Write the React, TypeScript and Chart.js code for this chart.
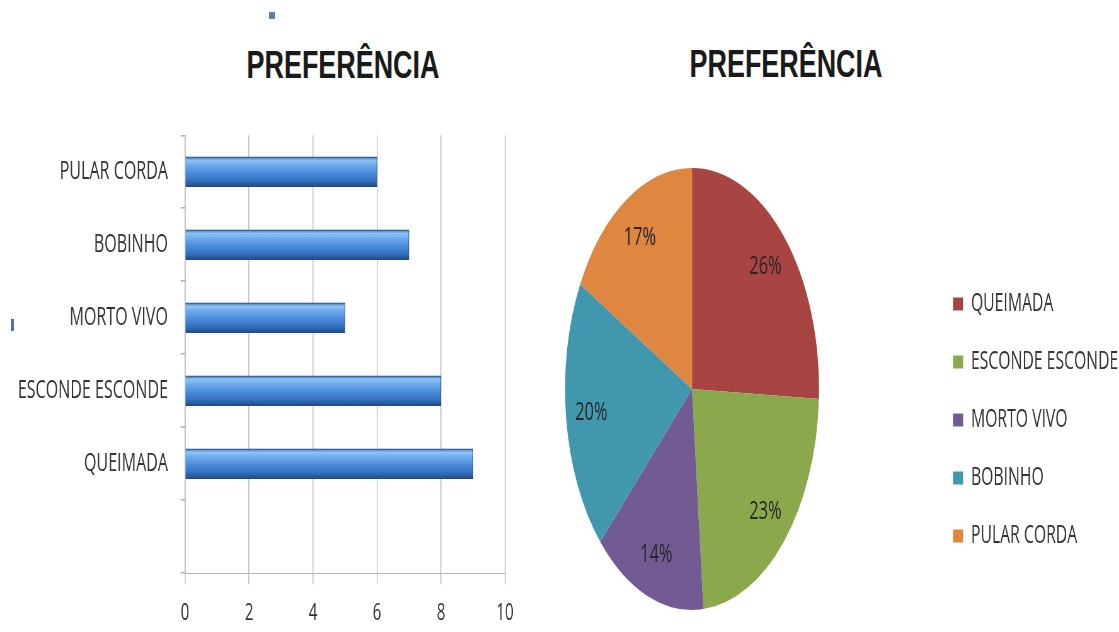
import React, { useEffect, useRef } from 'react';
import { Chart, registerables } from 'chart.js';

Chart.register(...registerables);

// ---- data ----
const categories = ['QUEIMADA', 'ESCONDE ESCONDE', 'MORTO VIVO', 'BOBINHO', 'PULAR CORDA'];
const votes = [9, 8, 5, 7, 6];
const sliceColors = ['#A84442', '#8AA84C', '#725A92', '#4198AE', '#DF8640'];
const xTickValues = [0, 2, 4, 6, 8, 10];
const chartTitle = 'PREFERÊNCIA';

// ---- layout constants ----
const S = 0.63; // horizontal condensation of the picture
const FONT = "'Open Sans', 'Liberation Sans', Arial, sans-serif";
const TITLE_FONT = "'Liberation Sans', Arial, sans-serif";
const CANVAS_TOP = 100;
const CANVAS_H = 532;
const BAR_H = 548;

const BAR_W = 841;
const BAR_AXIS_LEFT = 185 / S;
const BAR_AXIS_RIGHT = 505 / S;

const PIE_LEFT = 450;
const PIE_W = 1200;
const PIE_R = 127 / S;
const PIE_SY = 221 / PIE_R;
const LEGEND_PAD = 33;
const LEGEND_BOX_LEFT = 953;

function barGradient(c: any) {
  const chart = c.chart;
  const yScale = chart.scales && chart.scales.y;
  if (c.type !== 'data' || !yScale) return '#4a86d4';
  const yc = yScale.getPixelForValue(c.dataIndex);
  if (!isFinite(yc)) return '#4a86d4';
  const g = chart.ctx.createLinearGradient(0, yc - 15, 0, yc + 15);
  g.addColorStop(0, '#3a6db0');
  g.addColorStop(0.12, '#8ec3f6');
  g.addColorStop(0.3, '#6aa6ea');
  g.addColorStop(0.55, '#4b8bdb');
  g.addColorStop(0.8, '#3470c0');
  g.addColorStop(1, '#1f4a85');
  return g;
}

const ellipsePlugin = {
  id: 'ellipsePie',
  beforeDatasetsDraw(chart: any) {
    const arc = chart.getDatasetMeta(0).data[0];
    const ctx = chart.ctx;
    ctx.save();
    if (arc) {
      ctx.translate(arc.x, arc.y);
      ctx.scale(1, PIE_SY);
      ctx.translate(-arc.x, -arc.y);
    }
  },
  afterDatasetsDraw(chart: any) {
    const ctx = chart.ctx;
    ctx.restore();
    const meta = chart.getDatasetMeta(0);
    const data: number[] = chart.data.datasets[0].data;
    const total = data.reduce((a, b) => a + b, 0);
    ctx.save();
    ctx.font = `26px ${FONT}`;
    ctx.fillStyle = '#262626';
    ctx.textAlign = 'center';
    ctx.textBaseline = 'middle';
    meta.data.forEach((arc: any, i: number) => {
      const p = arc.getProps(['x', 'y', 'startAngle', 'endAngle', 'outerRadius'], true);
      const mid = (p.startAngle + p.endAngle) / 2;
      const lx = p.x + Math.cos(mid) * p.outerRadius * 0.8;
      const ly = p.y + Math.sin(mid) * p.outerRadius * 0.8 * PIE_SY;
      ctx.fillText(Math.round((data[i] / total) * 100) + '%', lx, ly);
    });
    ctx.restore();
  },
};

function titleStyle(center: number, top: number): React.CSSProperties {
  return {
    position: 'absolute',
    left: center - 300,
    width: 600,
    top,
    textAlign: 'center',
    font: `bold 39px ${TITLE_FONT}`,
    lineHeight: '39px',
    color: '#1a1a1a',
    transform: 'scaleX(0.69)',
    transformOrigin: '50% 50%',
    whiteSpace: 'nowrap',
  };
}

export default function App() {
  const barRef = useRef<HTMLCanvasElement>(null);
  const pieRef = useRef<HTMLCanvasElement>(null);

  useEffect(() => {
    Chart.defaults.font.family = FONT;
    const bar = new Chart(barRef.current as HTMLCanvasElement, {
      type: 'bar',
      data: {
        labels: ['', ...categories],
        datasets: [
          {
            data: [null, ...votes] as any,
            backgroundColor: barGradient as any,
            borderColor: '#274b80',
            borderWidth: 1,
            barThickness: 30,
          },
        ],
      },
      options: {
        indexAxis: 'y',
        responsive: false,
        animation: false,
        layout: { autoPadding: false, padding: { top: 30, right: BAR_W - BAR_AXIS_RIGHT, bottom: 5, left: 0 } },
        plugins: { legend: { display: false }, tooltip: { enabled: false }, title: { display: false } },
        scales: {
          x: {
            min: 0,
            max: 10,
            afterBuildTicks: (s: any) => {
              s.ticks = xTickValues.map((value) => ({ value }));
            },
            grid: { color: '#c3c3c3', lineWidth: 1.6, tickLength: 11, drawTicks: true },
            border: { color: '#b5b5b5', width: 1 },
            ticks: { color: '#333333', font: { size: 24, family: FONT }, padding: 15, maxRotation: 0 },
          },
          y: {
            reverse: true,
            afterFit: (s: any) => {
              s.width = BAR_AXIS_LEFT;
            },
            grid: { drawOnChartArea: false, offset: true, tickLength: 7, color: '#b5b5b5', lineWidth: 1.6 },
            border: { color: '#b5b5b5', width: 1.6 },
            ticks: { color: '#333333', font: { size: 25.5, family: FONT }, padding: 20 },
          },
        },
      } as any,
    });

    const pie = new Chart(pieRef.current as HTMLCanvasElement, {
      type: 'pie',
      data: {
        labels: categories,
        datasets: [{ data: votes, backgroundColor: sliceColors, borderWidth: 0 }],
      },
      options: {
        responsive: false,
        animation: false,
        radius: PIE_R,
        layout: { padding: { top: 96.5, bottom: 50.5, left: 4.5, right: 40 } },
        plugins: {
          tooltip: { enabled: false },
          legend: {
            position: 'right',
            align: 'end',
            labels: {
              boxWidth: 16,
              boxHeight: 13,
              padding: LEGEND_PAD,
              color: '#333333',
              font: { size: 25, family: FONT },
            },
          },
        },
      } as any,
      plugins: [ellipsePlugin],
    });

    // place the legend where the reference has it
    const targetLegendLeft = (LEGEND_BOX_LEFT - PIE_LEFT) / S - LEGEND_PAD;
    const lw = (pie as any).legend.width;
    const pieCenterX = (692 - PIE_LEFT) / S;
    (pie.options as any).layout.padding = {
      top: 96.5,
      bottom: 50.5,
      left: 2 * pieCenterX - targetLegendLeft,
      right: PIE_W - targetLegendLeft - lw,
    };
    pie.update();

    return () => {
      bar.destroy();
      pie.destroy();
    };
  }, []);

  return (
    <div
      style={{
        position: 'fixed',
        left: 0,
        top: 0,
        width: 1119,
        height: 632,
        overflow: 'hidden',
        background: '#ffffff',
      }}
    >
      <div style={{ position: 'absolute', left: 269, top: 12, width: 6, height: 7, background: '#5b7fb3' }} />
      <div style={{ position: 'absolute', left: 11, top: 319, width: 3, height: 12, background: '#5071a6' }} />
      <div style={titleStyle(343, 45)}>{chartTitle}</div>
      <div style={titleStyle(786, 44)}>{chartTitle}</div>
      <div
        style={{
          position: 'absolute',
          left: 0,
          top: CANVAS_TOP,
          width: BAR_W,
          height: BAR_H,
          transform: `scaleX(${S})`,
          transformOrigin: '0 0',
        }}
      >
        <canvas ref={barRef} width={BAR_W} height={BAR_H} style={{ display: 'block', width: BAR_W, height: BAR_H }} />
      </div>
      <div
        style={{
          position: 'absolute',
          left: PIE_LEFT,
          top: CANVAS_TOP,
          width: PIE_W,
          height: CANVAS_H,
          transform: `scaleX(${S})`,
          transformOrigin: '0 0',
        }}
      >
        <canvas ref={pieRef} width={PIE_W} height={CANVAS_H} style={{ display: 'block', width: PIE_W, height: CANVAS_H }} />
      </div>
    </div>
  );
}
